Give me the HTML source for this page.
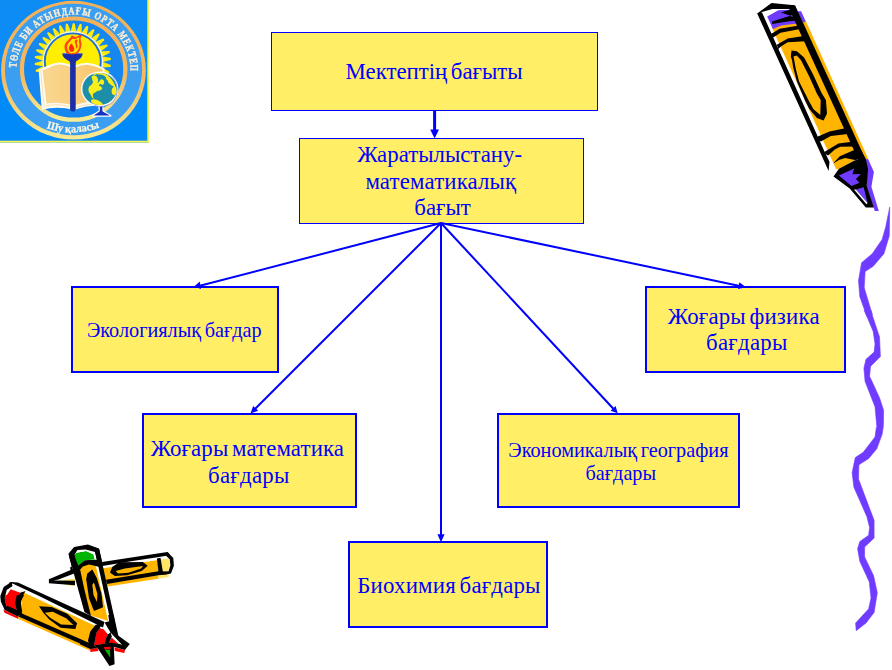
<!DOCTYPE html>
<html lang="kk">
<head>
<meta charset="utf-8">
<title>Мектептің бағыты</title>
<style>
html,body{margin:0;padding:0;background:#fff;}
body{width:892px;height:670px;position:relative;overflow:hidden;font-family:"Liberation Serif","DejaVu Serif",serif;color:#0000ff;}
.box{position:absolute;box-sizing:border-box;background:#ffee66;border:2px solid #0000ff;z-index:3;}
.box.thin{border-width:1px;}
.t{position:absolute;width:400px;text-align:center;white-space:nowrap;z-index:4;margin:0;}
.big{font-size:22.85px;line-height:22.85px;word-spacing:-2.2px;}
.small{font-size:20.25px;line-height:20.25px;word-spacing:-1.5px;}
svg{position:absolute;left:0;top:0;}
#art{z-index:1}
#lines{z-index:5}
</style>
</head>
<body>
<svg id="art" width="892" height="670" viewBox="0 0 892 670">
<g id="squiggle"><polygon fill="#6f3cff" stroke="#6f3cff" stroke-width="0.6" stroke-linejoin="round" points="889.7,207.2 889.3,235.8 883.9,253.7 873.2,266.3 865.1,271.6 864.2,287.8 872.3,314.6 870.5,310.0 879.5,336.9 880.4,356.6 870.5,366.4 869.6,376.3 879.5,397.8 883.6,410.3 883.4,424.6 883.2,427.2 882.1,434.3 876.8,448.7 868.7,458.5 858.9,464.8 858.5,479.1 874.1,520.3 874.1,534.6 874.1,538.1 864.6,547.0 864.6,556.9 873.6,575.7 877.3,592.7 874.1,612.4 866.0,623.1 856.2,630.7 855.6,623.1 868.7,608.8 871.0,598.1 869.3,581.9 859.8,561.3 857.6,548.8 859.8,541.6 868.4,535.4 868.7,534.6 869.6,527.5 866.9,516.7 853.9,487.2 852.1,472.8 855.3,457.6 863.3,452.2 875.0,437.0 876.4,427.2 876.8,426.4 875.0,406.7 865.1,381.6 863.9,368.2 866.0,359.3 874.1,352.1 875.0,344.0 873.2,331.5 864.2,310.0 866.9,316.4 859.8,296.7 858.5,280.6 861.6,262.7 872.3,253.7 882.1,239.4 885.7,226.9"/></g>
<g id="crayon1">
<polygon fill="#ffb400" points="801.5,21.5 805.8,21.0 868.3,159.0 864.9,159.8"/>
<polygon fill="#6f3cff" points="797.5,11.2 801.1,11.2 805.8,21.5 802.9,22.6"/>
<polygon fill="#6f3cff" points="864.5,159.4 868.1,159.0 873.9,172.0 871.4,186.8 878.8,211.0 874.8,211.0 866.3,185.9 867.6,169.3"/>
<polygon fill="#ffb400" points="772.8,29.6 772.1,22.0 792.5,14.0 854.9,150.0 855.0,160.3 838.9,168.8 836.2,169.3"/>
<polygon fill="#6f3cff" points="767.2,16.6 778.3,10.3 789.9,9.7 794.8,11.7 797.1,23.5 781.4,25.6 772.9,29.1"/>
<polygon fill="#000" points="757.2,13.5 761.9,12.3 824.7,152.0 829.5,161.7 828.6,171.1"/>
<polygon fill="#000" points="792.0,5.0 795.2,5.6 866.3,161.0 858.9,161.0 789.5,9.5"/>
<polygon fill="#000" points="757.2,13.5 771.5,3.1 794.4,5.2 796.6,10.8 790.8,9.0 772.4,9.0 761.7,12.1 759.9,14.8"/>
<polygon fill="#000" points="789.9,9.7 780.9,12.6 790.4,15.7 795.3,13.5 794.8,10.8"/>
<polygon fill="#000" points="772.0,21.5 789.5,16.1 795.9,17.2 796.5,20.6 787.7,21.5 772.2,24.0"/>
<polygon fill="#000" points="770.2,34.5 779.6,28.7 798.9,25.6 800.2,29.1 780.5,32.7 775.6,35.9 772.4,37.7"/>
<polygon fill="#000" points="776.9,44.8 787.7,38.6 803.8,35.9 805.6,41.3 787.7,42.2 780.9,46.6 778.3,48.9"/>
<polygon fill="#000" points="790.8,56.7 791.5,50.4 796.9,51.3 804.1,57.6 813.0,74.2 821.6,93.0 825.9,100.0 827.0,113.5 823.6,120.6 816.9,117.9 809.3,109.0 804.8,100.0 796.9,81.4 793.3,67.9 792.0,59.9"/>
<polygon fill="#ffb400" points="793.5,56.5 796.7,55.6 800.9,59.9 809.0,76.0 817.1,93.9 820.7,100.0 820.3,115.1 813.5,109.3 808.4,100.0 799.1,81.4 796.0,69.7"/>
<polygon fill="#000" points="816.7,137.0 829.5,131.4 845.2,128.3 848.1,134.1 830.8,135.9 820.9,141.4 818.5,140.2"/>
<polygon fill="#000" points="824.3,152.0 838.4,143.4 851.9,141.8 854.4,146.6 840.2,146.8 834.8,149.5 828.1,155.4 825.4,154.0"/>
<polygon fill="#000" points="834.4,162.1 839.8,156.3 854.2,150.0 860.9,150.0 865.8,159.0 855.0,159.9 845.2,158.1 838.9,159.9 833.5,163.5"/>
<polygon fill="#000" points="833.5,176.5 838.9,168.8 855.0,160.3 865.8,159.0 868.1,169.3 866.7,185.9 873.9,207.4 865.8,207.4 849.7,188.6"/>
<polygon fill="#6f3cff" points="838.9,175.6 854.2,168.4 852.4,174.2 860.9,174.0 855.9,179.1 859.5,182.7 851.5,185.9"/>
<polygon fill="#6f3cff" points="855.9,189.5 863.6,187.2 867.6,202.9"/>
<polygon fill="#fff" points="854.0,189.6 855.9,189.5 867.6,202.9 866.5,204.3"/>
</g>
<g id="crayons2">
<polygon fill="#ffb400" points="106.9,583.5 158.5,575.0 158.5,578.7 107.5,586.5"/>
<polygon fill="#ffe566" points="158.5,575.0 169.1,574.2 168.6,577.0 158.5,578.7"/>
<polygon fill="#ffe566" points="59.4,582.9 74.0,584.1 73.4,586.5"/>
<polygon fill="#ffb400" points="103.0,568.3 158.5,560.0 159.0,573.6 106.3,582.0"/>
<polygon fill="#ffe566" points="160.2,559.6 168.6,558.8 170.4,564.1 168.1,571.6 162.4,572.7"/>
<polygon fill="#000" points="101.9,561.9 167.4,552.1 169.7,554.3 166.3,555.7 159.0,557.0 132.7,561.1 102.4,566.0"/>
<polygon fill="#000" points="167.4,552.1 173.3,557.9 173.9,565.8 171.0,573.4 166.3,574.5 162.4,574.2 162.4,571.4 168.6,571.2 170.4,565.2 169.7,559.3 165.8,555.5"/>
<polygon fill="#000" points="106.0,579.8 158.5,571.2 163.0,571.4 166.3,574.5 158.5,575.2 106.9,583.9"/>
<polygon fill="#000" points="156.9,558.5 160.5,557.7 163.0,572.5 158.7,573.6"/>
<polygon fill="#000" points="110.0,572.5 112.5,566.7 119.2,562.2 142.8,562.0 147.7,565.8 141.7,571.1 127.1,575.2 114.8,575.9"/>
<polygon fill="#ffb400" points="115.7,570.9 124.8,568.5 143.0,566.0 141.1,568.5 128.4,572.7 117.9,573.4"/>
<polygon fill="#fff" points="61.3,578.5 73.8,573.5 74.7,576.9"/>
<polygon fill="#ffe566" points="60.0,579.8 74.5,576.9 75.6,580.5 60.0,580.5"/>
<polygon fill="#fff" points="52.7,580.6 58.3,579.5 72.9,574.2 74.9,579.2"/>
<polygon fill="#ffe566" points="56.1,580.9 74.9,578.7 74.9,581.7"/>
<polygon fill="#000" points="48.9,579.3 73.6,568.8 74.2,573.4 58.5,579.6 53.5,580.6 75.0,580.8 75.0,585.2 48.9,583.3"/>
<polygon fill="#ffb400" points="77.2,568.0 84.0,562.0 90.0,560.0 95.5,562.0 108.3,621.0 90.7,615.5"/>
<polygon fill="#fff" points="95.0,562.0 98.5,562.0 111.8,622.0 108.3,621.0"/>
<polygon fill="#00b400" points="74.1,554.5 77.5,552.4 86.2,551.1 93.6,554.5 94.8,559.6 84.9,560.3 77.1,566.7"/>
<polygon fill="#fff" points="74.5,554.5 77.5,550.1 85.6,549.4 95.0,552.1 96.9,559.6 94.4,559.0 93.6,554.5 86.2,551.1 75.6,553.1"/>
<polygon fill="#000" points="68.4,553.8 74.1,547.1 87.9,544.4 99.0,548.4 102.2,562.2 96.9,559.8 95.0,552.1 85.6,549.4 77.5,550.1 74.5,554.5 77.4,566.9 71.8,566.6"/>
<polygon fill="#000" points="77.1,566.6 84.9,560.2 96.9,559.7 102.2,562.2 103.0,566.9 98.3,566.8 95.6,566.1 88.9,564.5 82.9,566.4 79.4,570.4"/>
<polygon fill="#000" points="69.0,556.0 74.2,556.0 80.2,570.0 84.5,590.0 91.0,616.0 84.4,612.0"/>
<polygon fill="#000" points="99.1,549.0 118.4,636.0 113.4,634.0 94.9,551.0"/>
<polygon fill="#000" points="70.1,567.6 71.8,566.2 73.4,571.6 70.8,571.6"/>
<polygon fill="#000" points="92.3,569.4 96.8,578.1 101.5,593.8 103.0,607.3 94.0,610.9 89.0,598.3 86.2,579.2 87.3,573.6"/>
<polygon fill="#ffb400" points="92.3,584.8 94.0,582.4 97.4,593.8 97.0,601.9 93.5,594.9"/>
<polygon fill="#ff0000" points="3.4,609.6 17.9,616.5 18.5,619.1 4.5,612.7"/>
<polygon fill="#ffb400" points="17.9,615.8 90.3,647.4 90.3,650.7 18.4,619.1"/>
<polygon fill="#ff0000" points="90.3,648.8 97.6,648.0 98.5,651.1 90.3,652.1"/>
<polygon fill="#ff0000" points="103.8,646.8 110.5,646.4 110.5,649.6 104.6,648.8"/>
<polygon fill="#ff0000" points="114.3,647.2 125.0,649.9 124.3,652.9 114.9,650.9"/>
<polygon fill="#fff" points="9.0,581.8 98.0,622.5 105.0,624.2 96.5,627.0 20.0,591.4"/>
<polygon fill="#ffb400" points="21.0,591.2 95.6,626.0 90.5,631.0 89.0,643.0 22.0,615.1"/>
<polygon fill="#ff0000" points="4.7,598.3 10.7,589.3 20.4,592.7 16.8,598.3 16.3,607.3 16.8,615.0 6.7,607.3"/>
<polygon fill="#ff0000" points="5.6,595.0 16.8,595.0 15.1,602.8 17.0,609.8 7.0,605.7 5.0,599.5"/>
<polygon fill="#ff0000" points="93.8,645.2 96.4,632.6 99.7,628.0 103.8,629.2 108.1,634.3 105.6,638.8 104.4,643.9"/>
<polygon fill="#ff0000" points="109.0,642.7 111.6,637.4 118.7,643.9"/>
<polygon fill="#fff" points="102.0,624.0 104.6,622.6 110.5,632.6 108.1,634.4 103.8,629.3 100.1,628.1"/>
<polygon fill="#fff" points="111.6,636.3 113.7,635.8 122.0,644.7 118.7,643.9"/>
<polygon fill="#000" points="9.5,582.6 11.2,582.0 17.9,582.4 104.5,621.9 103.0,627.5 37.0,595.0 12.5,583.5 8.5,586.0"/>
<polygon fill="#000" points="11.2,582.0 12.6,586.0 6.7,589.9 4.7,598.3 6.5,606.7 7.0,605.7 21.9,612.0 17.9,616.5 4.7,610.1 0.9,601.7 0.3,596.1 3.7,586.9"/>
<polygon fill="#000" points="17.9,616.3 21.9,613.4 90.0,643.2 90.3,647.9"/>
<polygon fill="#000" points="20.2,592.7 25.6,591.0 21.3,598.3 20.7,607.3 22.4,615.0 17.9,615.0 16.3,607.3 16.8,598.3"/>
<polygon fill="#000" points="16.8,595.0 24.1,595.0 20.7,601.7 22.2,612.0 16.8,609.8 15.1,602.8"/>
<polygon fill="#000" points="95.6,624.8 102.2,623.9 99.5,628.5 96.6,632.6 94.0,645.2 90.3,648.8 88.0,640.6 90.3,631.4"/>
<polygon fill="#000" points="108.1,634.3 110.5,632.6 111.8,636.5 109.1,642.7 104.4,643.9 105.6,638.8"/>
<polygon fill="#000" points="108.3,615.0 113.7,615.0 117.1,634.7 129.8,644.1 124.9,650.0 113.8,646.8 114.6,664.2 109.5,666.1 97.6,648.0 94.0,645.2 104.4,643.7 109.1,642.5 118.7,643.7 122.0,644.7 113.7,635.9 110.5,632.6 109.1,621.2"/>
<polygon fill="#000" points="104.6,622.6 109.1,621.2 117.1,634.7 110.5,632.6"/>
<polygon fill="#000" points="80.0,639.6 88.2,643.3 94.0,645.2 97.6,648.0 90.3,649.0 80.0,644.3"/>
<polygon fill="#000" points="39.0,606.2 51.6,606.9 67.3,613.8 77.1,623.3 75.3,629.1 60.5,627.7 49.3,619.4 43.5,612.9"/>
<polygon fill="#ffb400" points="44.8,612.7 52.7,611.8 66.1,618.3 73.4,625.0 61.1,624.4 50.4,618.0"/>
<polygon fill="#00b400" points="104.6,649.5 110.0,649.9 110.3,657.8"/>
<polygon fill="#ff0000" points="103.8,647.0 110.5,646.7 110.5,649.5 104.6,649.3"/>
</g>
<g id="logo">
<defs>
<clipPath id="lgclip"><rect x="0" y="0" width="149" height="142.4"/></clipPath>
<clipPath id="globeclip"><ellipse cx="99.6" cy="88.9" rx="17.2" ry="16.0"/></clipPath>
<filter id="soft" x="-5%" y="-5%" width="110%" height="110%"><feGaussianBlur stdDeviation="0.55"/></filter>
<linearGradient id="gold" x1="0" y1="0" x2="0" y2="1"><stop offset="0" stop-color="#f4b057"/><stop offset="0.55" stop-color="#f5b95f"/><stop offset="0.8" stop-color="#f6d67e"/><stop offset="1" stop-color="#f8ec94"/></linearGradient>
<linearGradient id="bgb" x1="0" y1="0" x2="0" y2="1"><stop offset="0" stop-color="#0a8cf4"/><stop offset="1" stop-color="#048afa"/></linearGradient>
<path id="arcTop" d="M 19.76 73.88 A 53.87 55.60 0 1 1 127.24 73.88"/>
<path id="arcBot" d="M 45 127.6 Q 73 137.6 101 126.8"/>
<linearGradient id="bookg" x1="0" y1="0" x2="1" y2="0"><stop offset="0" stop-color="#f9d791"/><stop offset="0.5" stop-color="#f9cf80"/><stop offset="1" stop-color="#f9c568"/></linearGradient>
</defs>
<g clip-path="url(#lgclip)"><g filter="url(#soft)">
<rect x="-3" y="-3" width="154" height="148" fill="url(#bgb)"/>
<ellipse cx="73.5" cy="70.2" rx="72.4" ry="69.4" fill="url(#gold)"/>
<ellipse cx="73.5" cy="69.5" rx="68.6" ry="65.8" fill="#3b9ef0"/>
<ellipse cx="73.65" cy="69.1" rx="51.7" ry="50.6" fill="#1287ee" stroke="url(#gold)" stroke-width="4.2"/>
<polygon fill="#ffec0a" points="70.8,31.5 72.7,23.6 73.7,22.9 74.8,23.7 76.3,31.6"/>
<polygon fill="#ffec0a" points="76.3,31.6 79.6,24.2 80.8,23.7 81.7,24.7 81.7,32.8"/>
<polygon fill="#ffec0a" points="81.7,32.8 86.3,26.1 87.6,25.9 88.3,26.9 86.8,34.9"/>
<polygon fill="#ffec0a" points="86.8,34.9 92.6,29.2 93.9,29.2 94.4,30.3 91.5,37.9"/>
<polygon fill="#ffec0a" points="91.5,37.9 98.2,33.4 99.4,33.6 99.7,34.8 95.5,41.7"/>
<polygon fill="#ffec0a" points="95.5,41.7 102.9,38.5 104.1,39.0 104.1,40.2 98.7,46.2"/>
<polygon fill="#ffec0a" points="98.7,46.2 106.6,44.4 107.7,45.1 107.5,46.3 101.0,51.2"/>
<polygon fill="#ffec0a" points="101.0,51.2 109.1,50.9 110.1,51.8 109.6,53.0 102.4,56.6"/>
<polygon fill="#ffec0a" points="102.4,56.6 110.4,57.8 111.2,58.8 110.6,59.9 102.8,62.1"/>
<polygon fill="#ffec0a" points="102.8,62.1 110.5,64.8 111.0,65.9 110.2,66.9 102.1,67.6"/>
<polygon fill="#ffec0a" points="102.1,67.6 109.2,71.6 109.6,72.8 108.6,73.6 100.5,72.9"/>
<polygon fill="#ffec0a" points="44.6,71.6 36.5,71.9 35.5,71.0 36.0,69.8 43.2,66.2"/>
<polygon fill="#ffec0a" points="43.2,66.2 35.2,65.0 34.4,64.0 35.0,62.9 42.8,60.7"/>
<polygon fill="#ffec0a" points="42.8,60.7 35.1,58.0 34.6,56.9 35.4,55.9 43.5,55.2"/>
<polygon fill="#ffec0a" points="43.5,55.2 36.4,51.2 36.0,50.0 37.0,49.2 45.1,49.9"/>
<polygon fill="#ffec0a" points="45.1,49.9 38.9,44.7 38.8,43.4 39.9,42.8 47.7,45.0"/>
<polygon fill="#ffec0a" points="47.7,45.0 42.6,38.7 42.7,37.5 43.9,37.1 51.1,40.7"/>
<polygon fill="#ffec0a" points="51.1,40.7 47.2,33.6 47.6,32.3 48.8,32.2 55.3,37.0"/>
<polygon fill="#ffec0a" points="55.3,37.0 52.8,29.3 53.3,28.2 54.6,28.3 60.1,34.2"/>
<polygon fill="#ffec0a" points="60.1,34.2 59.0,26.2 59.8,25.2 61.0,25.5 65.3,32.4"/>
<polygon fill="#ffec0a" points="65.3,32.4 65.7,24.3 66.7,23.4 67.8,23.9 70.8,31.5"/>
<circle cx="72.8" cy="61.4" r="30.3" fill="#fff9d8"/>
<circle cx="72.8" cy="61.4" r="29.0" fill="#1f6fd8"/>
<circle cx="72.8" cy="61.4" r="27.1" fill="#ffee00"/>
<path fill="#fffaf0" d="M38.6 69.6 Q44 67.6 49.6 64.8 Q58 61.6 64 62.9 Q68 63.7 70.5 65.3 L75.5 65.3 Q81 62.6 87.4 62.7 Q95 63.6 104.5 68.4 L105 106 Q88 104.5 74 110 Q58 105.5 41.8 109.8 Z"/>
<path fill="url(#bookg)" d="M42.6 70.6 Q46 69.4 50.4 66.9 Q58 63.6 64 64.9 Q68 65.7 70.5 67.3 L75.5 67.3 Q81 64.6 87.4 64.7 Q95 65.6 102.6 69.6 L103 101.5 Q88 100.5 74 105.5 Q58 101 46.5 103.6 Z"/>
<path fill="none" stroke="#f6dca0" stroke-width="0.8" d="M40.6 70.5 L44.2 107.5 M45.5 105.8 Q60 103 73 107.4 M75 107.6 Q88 103 104 104.5"/>
<path fill="#1b2fa6" d="M62.2 53.4 Q72.5 51.6 82.7 53.4 Q82.4 58 76.2 61.2 L75.7 63 L75.7 108.8 Q75.7 111.6 72.9 111.6 Q70.1 111.6 70.1 108.8 L70.1 63 L69.4 61.2 Q62.6 58 62.2 53.4 Z"/>
<path fill="none" stroke="#5f84e0" stroke-width="1.1" d="M63.3 53.7 Q72.5 52.3 81.7 53.7"/>
<path fill="#ff4712" d="M67.74 53.69 C65.92 52.82 65.14 50.56 64.70 48.92 C64.26 47.28 64.46 45.37 65.11 43.84 C65.75 42.32 67.64 40.85 68.56 39.78 C69.47 38.72 70.04 38.18 70.58 37.45 C71.13 36.72 71.26 35.62 71.80 35.42 C72.34 35.22 73.15 35.96 73.83 36.23 C74.51 36.50 75.08 37.18 75.86 37.05 C76.64 36.91 77.31 35.79 78.50 35.42 C79.68 35.05 82.59 34.48 82.96 34.81 C83.33 35.15 81.07 36.45 80.73 37.45 C80.39 38.45 80.80 39.57 80.93 40.80 C81.07 42.03 81.61 43.51 81.54 44.86 C81.47 46.21 81.03 47.68 80.53 48.92 C80.02 50.15 79.31 51.40 78.50 52.26 C77.69 53.13 77.45 53.85 75.66 54.09 C73.86 54.33 69.57 54.55 67.74 53.69 Z"/>
<path fill="#ffe400" d="M69.77 52.67 C68.72 51.98 67.68 50.30 67.34 48.92 C67.00 47.53 67.24 45.65 67.74 44.35 C68.25 43.05 69.57 42.03 70.38 41.10 C71.19 40.17 71.82 39.11 72.61 38.77 C73.41 38.43 74.30 39.24 75.15 39.07 C76.00 38.91 77.01 37.92 77.69 37.76 C78.36 37.59 79.01 37.38 79.21 38.06 C79.41 38.74 78.85 40.60 78.90 41.81 C78.95 43.03 79.58 44.18 79.51 45.37 C79.45 46.55 79.01 47.82 78.50 48.92 C77.99 50.02 77.28 51.27 76.47 51.96 C75.66 52.65 74.74 52.96 73.63 53.08 C72.51 53.19 70.82 53.36 69.77 52.67 Z"/>
<path fill="#ff2a10" d="M70.79 51.66 C70.11 51.23 69.16 49.88 68.96 48.92 C68.76 47.95 69.10 46.77 69.57 45.87 C70.04 44.98 71.29 43.62 71.80 43.54 C72.31 43.45 72.28 44.76 72.61 45.37 C72.95 45.97 73.56 46.48 73.83 47.19 C74.10 47.90 74.37 48.92 74.24 49.63 C74.10 50.34 73.59 51.11 73.02 51.45 C72.44 51.79 71.46 52.08 70.79 51.66 Z"/>
<path fill="#ff4712" d="M74.64 41.31 C74.76 40.58 75.66 39.65 76.16 39.48 C76.67 39.31 77.57 39.68 77.69 40.29 C77.81 40.90 76.88 42.20 76.88 43.13 C76.88 44.06 77.69 44.96 77.69 45.87 C77.69 46.79 77.18 48.53 76.88 48.61 C76.57 48.70 76.10 47.17 75.86 46.38 C75.62 45.59 75.66 44.69 75.45 43.84 C75.25 43.00 74.52 42.03 74.64 41.31 Z"/>
<path fill="#ffffff" stroke="#ffffff" stroke-width="1.9" stroke-linejoin="round" d="M93 115.7 L99.6 111 L99.3 106 L102.7 106 L102.4 111 L110.6 115.7 Z"/>
<path fill="#1430c4" d="M93.6 115.6 L99.6 111.4 Q100.2 109 99.6 106 L102.6 106 Q102 109 102.6 111.4 L110 115.6 Z"/>
<ellipse cx="99.7" cy="88.9" rx="18.7" ry="17.5" fill="#fbfbff"/>
<path fill="none" stroke="#8f86dc" stroke-width="0.7" d="M112.8 76.6 Q121.9 90 113 102 Q106 108.6 94 105.6"/>
<ellipse cx="99.6" cy="88.9" rx="17.2" ry="16.0" fill="#1b8ea8"/>
<g clip-path="url(#globeclip)" fill="#fbee1a">
<path d="M91.80 76.20 C92.11 75.58 93.23 75.40 94.03 75.46 C94.84 75.52 95.96 75.83 96.64 76.58 C97.33 77.32 97.95 78.88 98.14 79.93 C98.32 80.99 97.51 82.73 97.76 82.92 C98.01 83.10 99.07 81.67 99.63 81.05 C100.19 80.43 100.50 79.37 101.12 79.19 C101.74 79.00 102.86 79.31 103.36 79.93 C103.85 80.55 104.23 82.11 104.10 82.92 C103.98 83.72 103.23 84.59 102.61 84.78 C101.99 84.97 100.99 83.91 100.37 84.03 C99.75 84.16 98.76 85.09 98.88 85.53 C99.01 85.96 100.56 86.15 101.12 86.64 C101.68 87.14 102.36 87.89 102.24 88.51 C102.11 89.13 101.18 89.94 100.37 90.37 C99.56 90.81 98.26 90.75 97.39 91.12 C96.52 91.49 95.84 92.18 95.15 92.61 C94.47 93.05 93.66 93.11 93.29 93.73 C92.92 94.35 92.85 95.53 92.92 96.34 C92.98 97.15 93.79 98.33 93.66 98.58 C93.54 98.82 92.67 98.45 92.17 97.83 C91.67 97.21 91.18 95.72 90.68 94.85 C90.18 93.98 89.56 93.48 89.19 92.61 C88.81 91.74 88.44 90.62 88.44 89.63 C88.44 88.63 88.69 87.45 89.19 86.64 C89.68 85.84 90.80 85.53 91.42 84.78 C92.05 84.03 92.79 83.10 92.92 82.17 C93.04 81.24 92.36 80.18 92.17 79.19 C91.98 78.19 91.49 76.82 91.80 76.20 Z"/>
<path d="M94.03 73.37 C95.09 72.96 98.32 72.42 100.37 72.62 C102.42 72.82 104.72 73.72 106.34 74.56 C107.95 75.41 108.95 76.55 110.07 77.69 C111.19 78.84 112.24 80.18 113.05 81.42 C113.86 82.67 114.32 83.79 114.92 85.15 C115.51 86.52 116.42 88.26 116.63 89.63 C116.84 90.99 116.53 92.42 116.18 93.36 C115.84 94.29 115.19 95.10 114.54 95.22 C113.90 95.34 112.80 94.79 112.31 94.10 C111.81 93.42 111.56 92.11 111.56 91.12 C111.56 90.12 111.93 88.88 112.31 88.14 C112.68 87.39 113.92 87.08 113.80 86.64 C113.67 86.21 112.18 85.96 111.56 85.53 C110.94 85.09 110.56 84.47 110.07 84.03 C109.57 83.60 108.95 83.47 108.58 82.92 C108.20 82.36 108.20 81.30 107.83 80.68 C107.46 80.06 106.71 79.81 106.34 79.19 C105.97 78.56 106.21 77.63 105.59 76.95 C104.97 76.27 103.98 75.52 102.61 75.08 C101.24 74.65 98.82 74.34 97.39 74.34 C95.96 74.34 94.59 75.25 94.03 75.08 C93.47 74.92 92.98 73.78 94.03 73.37 Z"/>
<path d="M91.05 100.81 C91.11 100.19 91.98 99.51 92.92 99.32 C93.85 99.14 95.53 99.38 96.64 99.69 C97.76 100.01 98.69 100.56 99.63 101.19 C100.56 101.81 101.49 102.74 102.24 103.42 C102.98 104.11 104.41 104.92 104.10 105.29 C103.79 105.66 101.74 105.76 100.37 105.66 C99.01 105.56 97.20 105.13 95.90 104.69 C94.59 104.26 93.35 103.70 92.54 103.05 C91.73 102.40 90.99 101.44 91.05 100.81 Z"/>
</g>
<g transform="translate(73.50 0) scale(1.060 1) translate(-73.50 0)"><text font-family="'Liberation Serif','DejaVu Serif',serif" font-weight="bold" font-size="10.6" letter-spacing="1.2" fill="#fdeed4" stroke="#fdeed4" stroke-width="0.4"><textPath href="#arcTop" startOffset="6.2" textLength="171" lengthAdjust="spacingAndGlyphs">ТӨЛЕ БИ АТЫНДАҒЫ ОРТА МЕКТЕП</textPath></text></g>
<text font-family="'Liberation Serif','DejaVu Serif',serif" font-weight="bold" font-size="11" fill="#fff8e0" stroke="#fff8e0" stroke-width="0.25"><textPath href="#arcBot" startOffset="1.5" textLength="54" lengthAdjust="spacingAndGlyphs">Шу қаласы</textPath></text>
</g>
<rect x="147.3" y="0" width="4" height="145" fill="#f8f24e"/>
<rect x="0" y="140.7" width="152" height="4" fill="#f8f24e"/>
</g>
</g>
</svg>
<svg id="lines" width="892" height="670" viewBox="0 0 892 670">
 <g stroke="#0000ff" stroke-width="2" fill="none">
  <line x1="441" y1="223" x2="198" y2="286.3"/>
  <line x1="441" y1="223" x2="254" y2="410"/>
  <line x1="441" y1="223" x2="441" y2="537"/>
  <line x1="441" y1="223" x2="614.3" y2="409.8"/>
  <line x1="441" y1="223" x2="741" y2="286.2"/>
 </g>
 <line x1="434.6" y1="110" x2="434.6" y2="131" stroke="#0000ff" stroke-width="3"/>
 <g fill="#0000ff">
  <polygon points="430.2,129.5 439,129.5 434.6,138.5"/>
  <polygon points="437.4,534.2 444.6,534.2 441,542.3"/>
  <polygon points="194.2,286.4 199.8,281.5 201,289"/>
  <polygon points="250.5,413.5 253.2,406 258.2,410.8"/>
  <polygon points="617.7,413.3 610.6,410.8 615.6,406"/>
  <polygon points="746,287.3 738,288.9 739.4,282.2"/>
 </g>
</svg>

<div class="box thin" style="left:271px;top:32px;width:327px;height:79px;"></div>
<div class="box thin" style="left:299px;top:138px;width:285px;height:86px;"></div>
<div class="box " style="left:71px;top:286px;width:208px;height:87px;"></div>
<div class="box " style="left:645px;top:286px;width:201px;height:87px;"></div>
<div class="box " style="left:142px;top:413px;width:215px;height:95px;"></div>
<div class="box " style="left:497px;top:413px;width:243px;height:95px;"></div>
<div class="box " style="left:348px;top:541px;width:200px;height:87px;"></div>
<p class="t big" style="left:234.10px;top:61.06px;">Мектептің бағыты</p>
<p class="t big" style="left:239.65px;top:144.06px;">Жаратылыстану-</p>
<p class="t big" style="left:240.90px;top:171.06px;letter-spacing:0.15px;">математикалық</p>
<p class="t big" style="left:242.60px;top:197.26px;">бағыт</p>
<p class="t small" style="left:-25.70px;top:319.84px;">Экологиялық бағдар</p>
<p class="t big" style="left:47.40px;top:437.66px;letter-spacing:0.12px;">Жоғары математика</p>
<p class="t big" style="left:48.85px;top:464.76px;letter-spacing:0.30px;">бағдары</p>
<p class="t small" style="left:418.40px;top:439.54px;">Экономикалық география</p>
<p class="t small" style="left:420.80px;top:463.04px;">бағдары</p>
<p class="t big" style="left:543.75px;top:305.96px;letter-spacing:0.17px;">Жоғары физика</p>
<p class="t big" style="left:546.85px;top:332.26px;letter-spacing:0.30px;">бағдары</p>
<p class="t big" style="left:248.95px;top:574.66px;letter-spacing:0.20px;">Биохимия бағдары</p>
</body>
</html>
